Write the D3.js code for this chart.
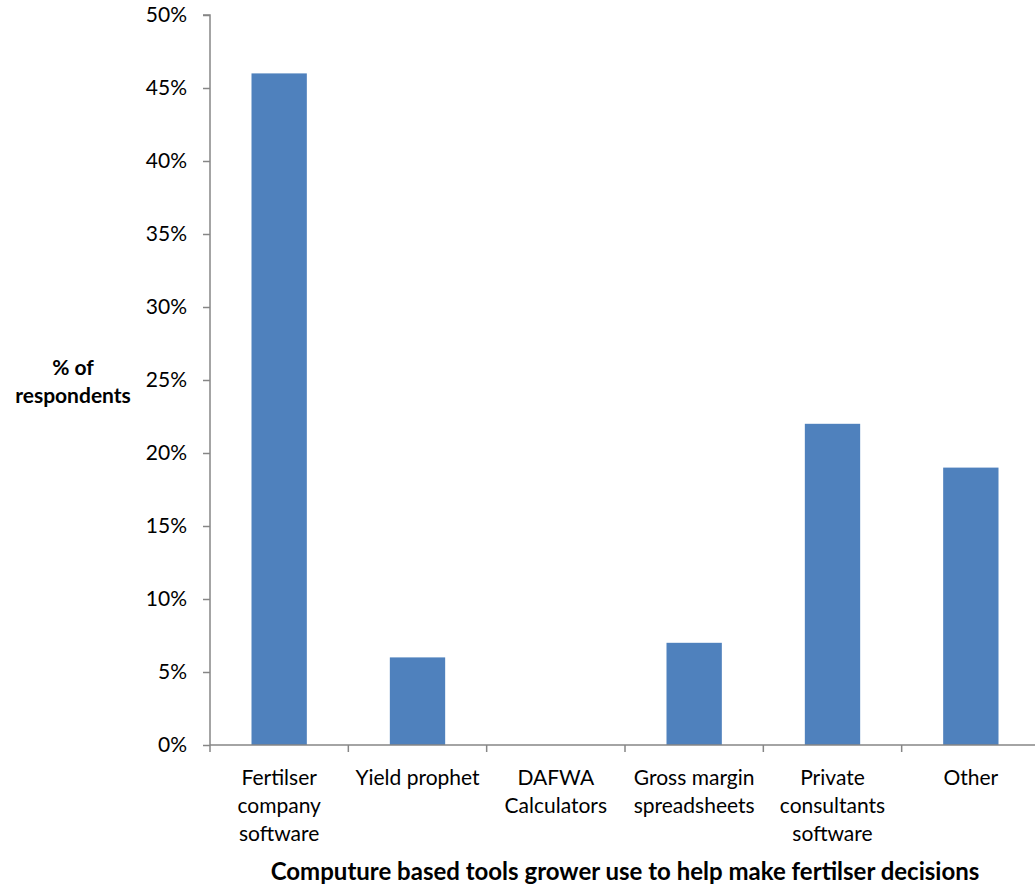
<!DOCTYPE html>
<html><head><meta charset="utf-8">
<script src="https://cdn.jsdelivr.net/npm/d3@7"></script>
<style>body{margin:0;background:#fff}svg{display:block}text{font-family:Lato,"Open Sans",sans-serif}</style>
</head><body>
<svg id="c" width="1035" height="888"></svg>
<script>
const categories = [["Fertilser","company","software"],["Yield prophet"],["DAFWA","Calculators"],["Gross margin","spreadsheets"],["Private","consultants","software"],["Other"]];
const values = [46, 6, 0, 7, 22, 19];
const yTicks = [0,5,10,15,20,25,30,35,40,45,50];
const yLabel = ["% of","respondents"];
const xTitle = "Computure based tools grower use to help make fertilser decisions";

(function(){
const svg = d3.select("#c");
const pl = 210, pr = 1040, pt = 15, pb = 745;
const x = d3.scaleBand().domain(d3.range(categories.length)).range([pl, pr]).paddingInner(0).paddingOuter(0);
const y = d3.scaleLinear().domain([0,50]).range([pb, pt]);
const axisColor = "#868686";

const bw = x.bandwidth()*0.4;
svg.append("g").selectAll("rect").data(values).join("rect")
  .attr("x",(d,i)=>x(i)+x.bandwidth()/2-bw/2)
  .attr("y",d=>y(d)).attr("width",bw).attr("height",d=>y(0)-y(d))
  .attr("fill","#4F81BD");

const ya = svg.append("g").attr("transform",`translate(${pl},0)`)
  .call(d3.axisLeft(y).tickValues(yTicks).tickFormat(d=>d+"%").tickSize(7).tickPadding(16));
ya.select(".domain").attr("stroke",axisColor).attr("stroke-width",1.5).attr("d",`M-7,${pt}H0V${pb}`);
ya.selectAll(".tick line").attr("stroke",axisColor).attr("stroke-width",1.5);
ya.selectAll(".tick text").attr("font-size",21).attr("fill","#000").attr("font-family","Lato");

const xa = svg.append("g").attr("transform",`translate(0,${pb})`);
xa.append("line").attr("x1",pl).attr("x2",pr).attr("y1",0).attr("y2",0).attr("stroke",axisColor).attr("stroke-width",1.5);
xa.selectAll("line.t").data(d3.range(categories.length+1)).join("line").attr("class","t")
  .attr("x1",i=>i<categories.length?x(i):pr).attr("x2",i=>i<categories.length?x(i):pr)
  .attr("y1",0).attr("y2",7).attr("stroke",axisColor).attr("stroke-width",1.5);
xa.selectAll("text.c").data(categories).join("text").attr("class","c")
  .attr("text-anchor","middle").attr("font-size",21).attr("fill","#000")
  .each(function(lines,i){
    d3.select(this).selectAll("tspan").data(lines).join("tspan")
      .attr("x",x(i)+x.bandwidth()/2).attr("y",(d,j)=>40+j*28).text(d=>d);
  });

svg.append("text").attr("x",625).attr("y",880).attr("text-anchor","middle")
  .attr("font-size",24).attr("font-weight","bold").text(xTitle);
svg.append("text").attr("text-anchor","middle").attr("font-size",21).attr("font-weight","bold")
  .selectAll("tspan").data(yLabel).join("tspan").attr("x",73).attr("y",(d,j)=>375+j*28).text(d=>d);
})();
</script>
</body></html>
